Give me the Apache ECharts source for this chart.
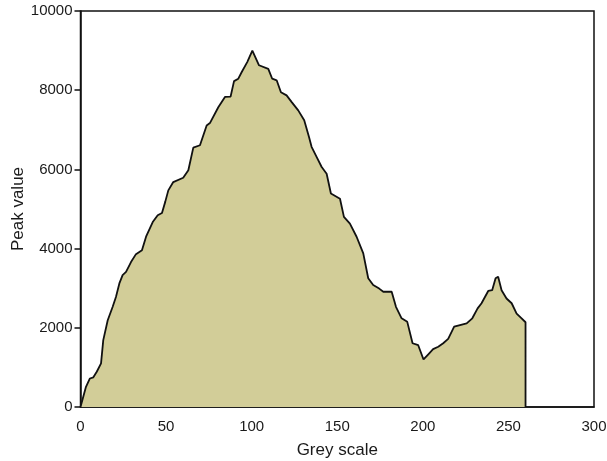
<!DOCTYPE html>
<html><head><meta charset="utf-8">
<script src="https://cdn.jsdelivr.net/npm/echarts@6/dist/echarts.min.js"></script>
<style>html,body{margin:0;padding:0;background:#fff}#c{width:607px;height:461px}</style>
</head><body><div id="c"></div>
<script>
const greyScale = [0,3.2,5.5,7.5,9.5,12,13.3,15.9,18.8,20.7,22.7,24.6,26.6,29.5,32.4,35.9,38.3,42.2,45.1,47.6,49.5,51.3,54.2,60,63,65.9,69.8,73.7,75.6,80.5,84.4,87.7,89.7,92.2,94.2,97.4,100.4,104.3,109.7,112,114.6,117.1,120.4,123.4,127.2,130.7,133.5,135,138,140.9,143.8,146.3,151.6,153.9,157.4,161.3,165.2,168.1,171,174.5,176.9,181.8,184.3,187.6,190.9,194,197.3,200.4,203.2,206,209,211.9,214.8,218.3,221.7,225.6,228.9,232,234.3,238.2,240.5,242.5,244,246,248.9,251.9,254.8,257.7,260,260];
const peakValue = [0,510,720,750,890,1100,1690,2190,2530,2780,3120,3330,3410,3660,3860,3960,4300,4670,4840,4900,5180,5470,5680,5790,5980,6550,6610,7110,7170,7570,7830,7840,8230,8290,8460,8710,9000,8630,8540,8290,8250,7950,7870,7700,7490,7240,6820,6570,6310,6060,5890,5390,5260,4800,4630,4300,3880,3250,3080,2990,2910,2910,2530,2240,2150,1610,1560,1200,1330,1460,1520,1610,1720,2030,2070,2110,2240,2490,2620,2930,2950,3250,3290,2950,2740,2620,2360,2240,2140,0];
const xTicks = {min:0, max:300, interval:50};
const yTicks = {min:0, max:10000, interval:2000};

const data = greyScale.map((g,i)=>[g, peakValue[i]]);
const chart = echarts.init(document.getElementById('c'), null, {renderer:'canvas'});
const txt = '#1a1a1a';
const font = 'Liberation Sans';
chart.setOption({
  animation:false,
  grid:{left:80.5, right:13, top:11, bottom:54, outerBoundsMode:'none', containLabel:false,
    show:true, borderColor:'#111', borderWidth:1.5, backgroundColor:'transparent'},
  xAxis:{type:'value', min:xTicks.min, max:xTicks.max, interval:xTicks.interval,
    name:'Grey scale', nameLocation:'middle', nameGap:35, nameMoveOverlap:false,
    nameTextStyle:{fontFamily:font, fontSize:17, color:txt},
    axisLine:{show:true, lineStyle:{color:'#111', width:1.5}},
    axisTick:{show:false},
    axisLabel:{fontFamily:font, fontSize:15, color:txt, margin:12, formatter:v=>String(v)},
    splitLine:{show:false}},
  yAxis:{type:'value', min:yTicks.min, max:yTicks.max, interval:yTicks.interval,
    name:'Peak value', nameLocation:'middle', nameGap:54, nameMoveOverlap:false,
    nameTextStyle:{fontFamily:font, fontSize:17, color:txt},
    axisLine:{show:true, lineStyle:{color:'#111', width:1.5}},
    axisTick:{show:true, length:6, lineStyle:{color:'#111', width:1.5}},
    axisLabel:{fontFamily:font, fontSize:15, color:txt, margin:8, formatter:v=>String(v)},
    splitLine:{show:false}},
  series:[{type:'line', data:data, symbol:'none', smooth:false,
    lineStyle:{color:'#111', width:1.8},
    areaStyle:{color:'#D2CD98', opacity:1}}]
});
</script></body></html>
